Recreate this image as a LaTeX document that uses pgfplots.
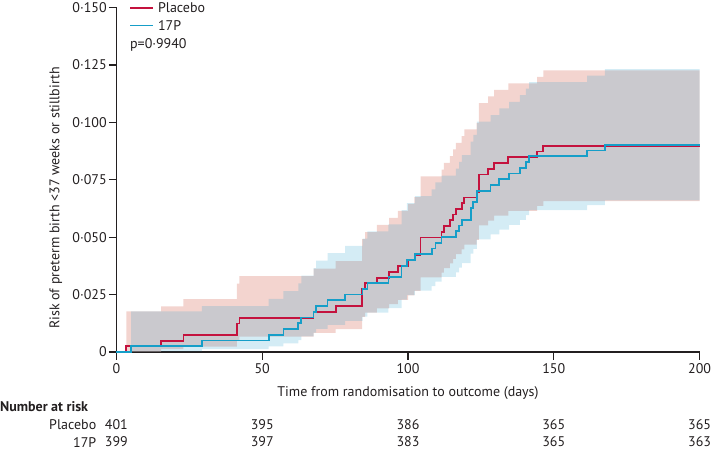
\documentclass[border=0pt]{standalone}
\usepackage{fontspec}
\setmainfont{PT Sans}
\usepackage{pgfplots}
\pgfplotsset{compat=1.18}
\usepackage{pgfplotstable}
\usepgfplotslibrary{fillbetween}
\definecolor{kmred}{HTML}{C4123E}
\definecolor{kmblue}{HTML}{169EC8}
\definecolor{pinkfill}{RGB}{243,212,207}
\definecolor{bluebase}{RGB}{40,160,205}
\definecolor{txt}{RGB}{35,31,32}
\newcommand{\myfont}{\fontsize{14bp}{16bp}\selectfont}

\pgfplotstableread{
day s lo hi
0 0 0 0
3.4 0.002494 0.000352 0.01767
15.3 0.004988 0.001252 0.01988
23.0 0.007481 0.002423 0.02310
41.3 0.012469 0.005218 0.02979
42.2 0.014963 0.006763 0.03311
67.6 0.017456 0.008376 0.03638
75.2 0.019950 0.010046 0.03962
84.3 0.027431 0.015315 0.04913
85.3 0.029925 0.017140 0.05225
89.3 0.032419 0.018992 0.05534
93.5 0.034913 0.020869 0.05841
96.5 0.037406 0.022767 0.06146
100.0 0.039900 0.024686 0.06449
102.2 0.042394 0.026624 0.06750
104.3 0.049875 0.032536 0.07645
111.5 0.052369 0.034535 0.07941
112.3 0.054863 0.036548 0.08236
114.4 0.057357 0.038572 0.08529
115.5 0.059850 0.040607 0.08821
116.4 0.062344 0.042654 0.09112
118.4 0.064838 0.044710 0.09403
119.3 0.067332 0.046778 0.09692
123.5 0.069825 0.048849 0.09981
124.3 0.077307 0.055129 0.10841
127.5 0.079800 0.057233 0.11127
129.5 0.082294 0.059354 0.11410
134.4 0.084788 0.061476 0.11694
144.3 0.087282 0.063607 0.11977
146.4 0.089776 0.065741 0.12260
200 0.089776 0.065741 0.12260
}\placebo

\pgfplotstableread{
day s lo hi
0 0 0 0
5.0 0.002506 0.000354 0.01775
29.3 0.005013 0.001258 0.01998
52.2 0.007519 0.002435 0.02321
57.3 0.010025 0.003781 0.02658
62.4 0.012531 0.005244 0.02994
63.4 0.015038 0.006796 0.03327
67.6 0.017544 0.008418 0.03656
68.5 0.020050 0.010097 0.03982
72.4 0.022556 0.011823 0.04303
78.4 0.025063 0.013590 0.04622
84.4 0.027569 0.015392 0.04938
86.1 0.030075 0.017226 0.05251
93.3 0.032581 0.019087 0.05562
97.8 0.037594 0.022881 0.06177
99.6 0.040100 0.024810 0.06481
102.4 0.042607 0.026758 0.06784
108.1 0.045113 0.028723 0.07085
109.4 0.047619 0.030704 0.07385
111.5 0.050125 0.032700 0.07684
116.4 0.052632 0.034708 0.07981
117.5 0.055138 0.036732 0.08277
118.5 0.057644 0.038765 0.08572
121.5 0.062657 0.042868 0.09158
122.4 0.065163 0.044934 0.09450
123.6 0.070175 0.049094 0.10031
128.3 0.072682 0.051192 0.10319
131.3 0.075188 0.053295 0.10607
134.7 0.077694 0.055405 0.10895
138.4 0.080201 0.057521 0.11182
140.4 0.082707 0.059652 0.11467
141.5 0.085213 0.061784 0.11753
161.4 0.087719 0.063926 0.12037
167.5 0.090226 0.066071 0.12321
200 0.090226 0.066071 0.12321
}\seventeenp

\begin{document}
\begin{tikzpicture}[font=\myfont]
\begin{axis}[
  at={(0,0)}, anchor=south west,
  scale only axis, width=583.5bp, height=344.8bp,
  xmin=0, xmax=200, ymin=0, ymax=0.15,
  axis x line=bottom, axis y line=left,
  axis line style={-, line width=1.2bp, txt},
  tick align=outside, major tick length=7.5bp,
  tick style={line width=1.2bp, txt},
  xtick={0,50,100,150,200},
  xticklabels={0,50,100,150,200},
  ytick={0,0.025,0.05,0.075,0.1,0.125,0.15},
  yticklabels={0,0·025,0·050,0·075,0·100,0·125,0·150},
  tick label style={font=\myfont, txt},
  xticklabel style={inner sep=2bp, yshift=-2bp},
  yticklabel style={inner sep=2bp},
  label style={font=\myfont, txt},
  xlabel={Time from randomisation to outcome (days)},
  ylabel={Risk of preterm birth <37 weeks or stillbirth},
  xlabel style={at={(axis description cs:0.5,-0.119)}, anchor=center},
  ylabel style={at={(axis description cs:-0.104,0.447)}, anchor=center},
  clip=false,
]
\addplot[const plot, draw=none, name path=pu, forget plot] table[x=day,y=hi]{\placebo};
\addplot[const plot, draw=none, name path=pl, forget plot] table[x=day,y=lo]{\placebo};
\addplot[pinkfill, forget plot] fill between[of=pu and pl];
\addplot[const plot, draw=none, name path=bu, forget plot] table[x=day,y=hi]{\seventeenp};
\addplot[const plot, draw=none, name path=bl, forget plot] table[x=day,y=lo]{\seventeenp};
\addplot[bluebase, fill opacity=0.2, forget plot] fill between[of=bu and bl];
\addplot[const plot, color=kmred, line width=1.8bp] table[x=day,y=s]{\placebo};
\addplot[const plot, color=kmblue, line width=1.8bp] table[x=day,y=s]{\seventeenp};

% legend (line samples as thin filled bars)
\fill[kmred] ([xshift=13.5bp,yshift=-1.4bp]axis cs:0,0.15) rectangle ++(23.5bp,1.8bp);
\node[anchor=west, inner sep=0pt, txt] at ([xshift=41.5bp,yshift=-0.5bp]axis cs:0,0.15) {Placebo};
\fill[kmblue] ([xshift=13.5bp,yshift=-18.9bp]axis cs:0,0.15) rectangle ++(23.5bp,1.8bp);
\node[anchor=west, inner sep=0pt, txt] at ([xshift=41.5bp,yshift=-18bp]axis cs:0,0.15) {17P};
\node[anchor=west, inner sep=0pt, txt] at ([xshift=13.5bp,yshift=-37.5bp]axis cs:0,0.15) {p=0·9940};

% number at risk
\node[anchor=west, inner sep=0pt, font=\myfont\bfseries, txt] at ([xshift=-116.5bp,yshift=-54.5bp]axis cs:0,0) {Number at risk};
\node[anchor=east, inner sep=0pt, txt] at ([xshift=-20bp,yshift=-72.5bp]axis cs:0,0) {Placebo};
\node[anchor=east, inner sep=0pt, txt] at ([xshift=-20bp,yshift=-90bp]axis cs:0,0) {17P};
\node[inner sep=0pt, txt] at ([yshift=-72.5bp]axis cs:0,0) {401};
\node[inner sep=0pt, txt] at ([yshift=-90bp]axis cs:0,0) {399};
\node[inner sep=0pt, txt] at ([yshift=-72.5bp]axis cs:50,0) {395};
\node[inner sep=0pt, txt] at ([yshift=-90bp]axis cs:50,0) {397};
\node[inner sep=0pt, txt] at ([yshift=-72.5bp]axis cs:100,0) {386};
\node[inner sep=0pt, txt] at ([yshift=-90bp]axis cs:100,0) {383};
\node[inner sep=0pt, txt] at ([yshift=-72.5bp]axis cs:150,0) {365};
\node[inner sep=0pt, txt] at ([yshift=-90bp]axis cs:150,0) {365};
\node[inner sep=0pt, txt] at ([yshift=-72.5bp]axis cs:200,0) {365};
\node[inner sep=0pt, txt] at ([yshift=-90bp]axis cs:200,0) {363};
\end{axis}
\path (-116.5bp,-97.7bp) rectangle (596.5bp,352.3bp);
\end{tikzpicture}
\end{document}
